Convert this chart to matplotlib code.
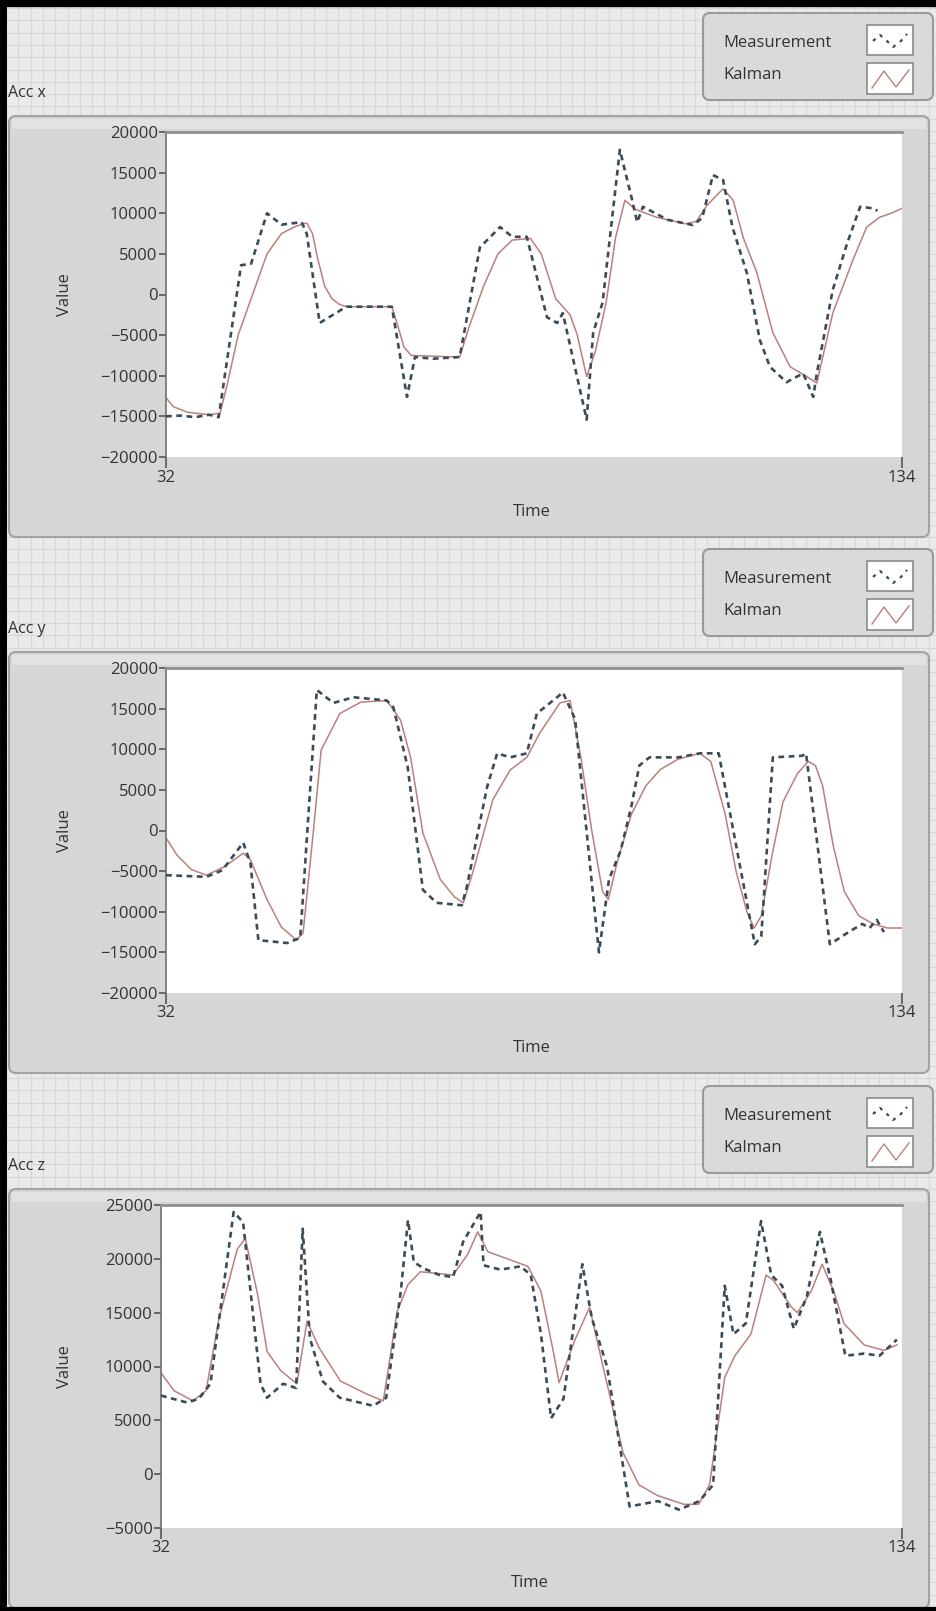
import matplotlib
matplotlib.use('Agg')
import matplotlib.pyplot as plt
from matplotlib.patches import FancyBboxPatch, Rectangle
import numpy as np

plt.rcParams['font.family'] = ['Open Sans', 'DejaVu Sans']

W, H = 936, 1611

# Acc x
accx_meas_t = [32, 34, 36, 38, 39.3, 42.4, 43.8, 46, 48, 50.8, 51.5, 53.3, 57, 63.3, 65.4, 66.5, 69, 72.7,
               75.5, 78.3, 80, 82, 84.8, 86.2, 87, 90.3, 91.2, 92.5, 94.9, 96.5, 97.3, 98.1, 101.5, 105,
               106.3, 107.8, 109.2, 110.5, 112.5, 114.3, 115.7, 118, 120.3, 121.7, 122.2, 124.4, 126.4,
               128.2, 130, 130.6]
accx_meas_v = [-15000, -14900, -15100, -14800, -15100, 3600, 3800, 10000, 8600, 8900, 7500, -3500, -1500,
               -1500, -12600, -7700, -7900, -7700, 5800, 8300, 7100, 7100, -2800, -3500, -2300, -15400,
               -4700, -1000, 17800, 12000, 8900, 10800, 9200, 8550, 9400, 14700, 14100, 8300, 2650, -5600,
               -8900, -10800, -9700, -12600, -9700, 560, 6300, 10800, 10600, 10300]
accx_kal_t = [32, 33, 35, 38, 39.5, 40.5, 42, 44, 46, 48, 50, 51.5, 52.3, 53, 54, 55, 56, 57, 63.3, 64,
              65, 66, 72.7, 74, 76, 78, 80, 82.5, 84, 86, 88, 89, 90.3, 91.5, 93, 94.3, 95.6, 97, 100, 104,
              105.5, 107, 109.2, 110.6, 112, 113.9, 116.1, 118.5, 120.8, 122.2, 124.4, 127.2, 129.1,
              130.9, 132.5, 134]
accx_kal_v = [-12700, -13800, -14500, -14800, -14600, -11000, -5000, 0, 5000, 7500, 8400, 8800, 7500,
              4500, 1000, -500, -1200, -1500, -1500, -3500, -6500, -7500, -7700, -4000, 1000, 5000, 6700,
              6900, 5000, -500, -2500, -5000, -10100, -7000, -1000, 7000, 11600, 10500, 9500, 8700, 9000,
              11000, 13000, 11600, 7000, 2650, -4700, -8900, -10100, -10900, -2300, 4250, 8300, 9500,
              10000, 10600]

# Acc y
accy_meas_t = [32, 37.6, 39.8, 42.7, 43.7, 44.8, 48.8, 50.6, 52.9, 55.2, 58, 62.6, 63.5, 65.5, 67.6, 69.5,
               73, 73.7, 76.5, 77.9, 79.7, 82, 83.4, 86.2, 87, 88.7, 92, 93.4, 95, 96.5, 97.6, 99, 103,
               106, 108.6, 113.6, 114.5, 116.1, 120.2, 120.7, 124, 126.6, 128.5, 129.5, 130.5, 131.5]
accy_meas_v = [-5500, -5700, -4900, -1500, -4000, -13500, -13850, -13200, 17300, 15700, 16400, 16000,
               15200, 7800, -7300, -8900, -9200, -6900, 5350, 9500, 9000, 9500, 14400, 16400, 17000,
               13700, -15000, -6000, -2500, 3000, 8000, 9000, 9000, 9500, 9500, -14000, -13000, 9000,
               9200, 9500, -14000, -12500, -11500, -12000, -11000, -12500]
accy_kal_t = [32, 33.5, 35.5, 37.6, 40, 42.7, 43.7, 46, 48, 50.1, 51, 52.4, 53.5, 56.1, 59, 62.6, 64.5,
              65.9, 67.6, 70, 72, 73.2, 74.5, 77.3, 79.7, 82, 83.8, 86.6, 88, 89.5, 91, 92.5, 93.3, 94.5,
              96.5, 98.5, 100.5, 103, 106, 107.5, 109.5, 111, 112.5, 113.5, 114.5, 116, 117.5, 119.5,
              121, 122, 123, 124.5, 126, 128, 130, 132, 134]
accy_kal_v = [-900, -3000, -4800, -5500, -4500, -2800, -3600, -8500, -11900, -13500, -12600, -300, 9900,
              14400, 15800, 16000, 13600, 9000, -300, -6000, -8200, -8900, -5200, 3800, 7450, 9000, 12000,
              15700, 16000, 9000, 0, -7500, -8500, -4000, 2000, 5500, 7500, 8800, 9500, 8500, 2000, -5000,
              -10000, -12000, -10500, -3000, 3500, 7000, 8500, 8000, 5500, -2000, -7500, -10500, -11500,
              -12000, -12000]

# Acc z
accz_meas_t = [32, 35.6, 37.2, 38.8, 42, 43.3, 45.7, 46.6, 48.8, 50.6, 51.5, 52.5, 54.3, 56.6, 61.2, 63,
               65, 66, 66.8, 68.2, 70.3, 72.2, 73.6, 76, 76.4, 78.7, 81.5, 82.9, 84.3, 85.7, 87.4, 90,
               91.3, 93.4, 96.5, 100.4, 103.3, 106.1, 108, 109.6, 110.8, 112.5, 114.6, 116, 117.5, 119.1,
               120.9, 122.7, 124.2, 126.2, 128.8, 130.9, 133.3]
accz_meas_v = [7300, 6650, 7000, 8400, 24350, 23400, 8400, 7100, 8400, 8000, 22800, 12600, 8600, 7100,
               6350, 7100, 16950, 23600, 19700, 19100, 18500, 18300, 21600, 24350, 19400, 19000, 19300,
               18500, 13000, 5200, 7000, 19500, 14500, 10000, -3000, -2500, -3300, -2500, -1000, 17500,
               13000, 14000, 23500, 18500, 17500, 13500, 16500, 22500, 18000, 11000, 11200, 11000, 12500]
accz_kal_t = [32, 33.8, 36.4, 38.2, 40, 42.5, 43.6, 45.3, 46.6, 48.5, 50.7, 52.1, 53.8, 56.7, 60.3, 62.6,
              64.5, 66, 67.7, 72.2, 74.2, 75.6, 77, 79.7, 82.5, 84.3, 86, 86.8, 89, 91, 92.5, 95.6, 97.8,
              100.4, 104, 106, 107.5, 109.6, 111, 113.2, 115.3, 116.3, 118.8, 119.6, 121.5, 123, 124.6,
              126, 128.8, 131.5, 133.3]
accz_kal_v = [9400, 7750, 6800, 7750, 14500, 20900, 21900, 16700, 11400, 9600, 8400, 14200, 11700, 8650,
              7450, 6800, 15100, 17600, 18800, 18500, 20400, 22500, 20650, 20000, 19300, 17000, 11400,
              8500, 12500, 15500, 11000, 2000, -1000, -2000, -2800, -2800, -1000, 9000, 11000, 13000,
              18500, 18000, 15500, 15000, 17000, 19500, 17000, 14000, 12000, 11500, 12000]

panel_names = ['Acc x', 'Acc y', 'Acc z']
y_ranges = [(-20000, 20000, 5000), (-20000, 20000, 5000), (-5000, 25000, 5000)]
x_range = (32, 134)

series = [
    (accx_meas_t, accx_meas_v, accx_kal_t, accx_kal_v),
    (accy_meas_t, accy_meas_v, accy_kal_t, accy_kal_v),
    (accz_meas_t, accz_meas_v, accz_kal_t, accz_kal_v),
]

# plot-area pixel boxes (left, top, right, bottom)
boxes = [(166, 132, 902, 457), (166, 668, 902, 993), (161, 1205, 902, 1528)]

meas_color = '#3a4c57'
kal_color = '#bd7f7d'
txt_color = '#333333'

fig = plt.figure(figsize=(W / 100, H / 100), dpi=100)
fig.patch.set_facecolor('#eaeaea')
bg = fig.add_axes([0, 0, 1, 1])
bg.set_xlim(0, W)
bg.set_ylim(H, 0)
bg.axis('off')

# front panel grid
for gx in np.arange(6, W, 12.3):
    bg.plot([gx, gx], [0, H], color='#d7d7d7', lw=0.8, zorder=0)
for gy in np.arange(8, H, 12.3):
    bg.plot([0, W], [gy, gy], color='#d7d7d7', lw=0.8, zorder=0)

for i, (l, t, r, b) in enumerate(boxes):
    # panel frame
    bg.add_patch(FancyBboxPatch((9, t - 16), 920, (b + 80) - (t - 16),
                                boxstyle='round,pad=0,rounding_size=7',
                                fc='#d6d6d6', ec='#a3a3a3', lw=1.5, zorder=1))
    bg.add_patch(Rectangle((12, t - 13), 914, 10, fc='#e2e2e2', ec='none', zorder=1))
    # legend frame
    lt = t - 119
    bg.add_patch(FancyBboxPatch((703, lt), 230, 87,
                                boxstyle='round,pad=0,rounding_size=7',
                                fc='#dadada', ec='#9a9a9a', lw=1.5, zorder=1))
    bg.text(723, lt + 30, 'Measurement', fontsize=12, color=txt_color, va='center', ha='left')
    bg.text(723, lt + 62, 'Kalman', fontsize=12, color=txt_color, va='center', ha='left')
    bg.add_patch(Rectangle((867, lt + 12), 46, 30, fc='white', ec='#8a8a8a', lw=1.2, zorder=2))
    bg.add_patch(Rectangle((867, lt + 50), 46, 31, fc='white', ec='#8a8a8a', lw=1.2, zorder=2))
    bg.plot([873, 880, 886, 893, 900, 907], [lt + 28, lt + 22, lt + 27, lt + 34, lt + 29, lt + 21],
            color=meas_color, lw=1.6, ls=(0, (1.5, 2.5)), zorder=3)
    bg.plot([872, 884, 896, 909], [lt + 75, lt + 58, lt + 74, lt + 57],
            color=kal_color, lw=1.0, zorder=3)
    # panel label
    bg.text(8, t - 39, panel_names[i], fontsize=11.5, color=txt_color, va='center', ha='left')
    bg.text(65, (t + b) / 2, 'Value', fontsize=12, rotation=90, color=txt_color, ha='center', va='center')
    bg.text((l + r) / 2 - 2, b + 55, 'Time', fontsize=12, color=txt_color, ha='center', va='center')

    ax = fig.add_axes([l / W, 1 - b / H, (r - l) / W, (b - t) / H])
    ax.set_facecolor('white')
    mt, mv, kt, kv = series[i]
    ax.plot(kt, kv, color=kal_color, lw=1.1, zorder=2)
    ax.plot(mt, mv, color=meas_color, lw=1.9, ls=(0, (2.2, 1.7)), zorder=3)
    y0, y1, ys = y_ranges[i]
    ax.set_xlim(*x_range)
    ax.set_ylim(y0, y1)
    ax.set_yticks(np.arange(y0, y1 + 1, ys))
    ax.set_xticks(list(x_range))
    ax.tick_params(axis='y', direction='out', length=5, width=1.2, color='#555555',
                   labelsize=12, labelcolor=txt_color, pad=1)
    ax.tick_params(axis='x', direction='out', length=8, width=1.2, color='#555555',
                   labelsize=12, labelcolor=txt_color, pad=1)
    for s in ['right', 'bottom']:
        ax.spines[s].set_visible(False)
    ax.spines['top'].set_color('#8f8f8f')
    ax.spines['top'].set_linewidth(2)
    ax.spines['left'].set_color('#6f6f6f')
    ax.spines['left'].set_linewidth(1.2)

# black outer frame (left, top, bottom)
bg.plot([3, 3], [0, H], color='black', lw=5, zorder=5)
bg.plot([0, W], [3, 3], color='black', lw=6, zorder=5)
bg.plot([0, W], [H - 2, H - 2], color='black', lw=3, zorder=5)

fig.savefig('out.png', dpi=100, facecolor=fig.get_facecolor())
